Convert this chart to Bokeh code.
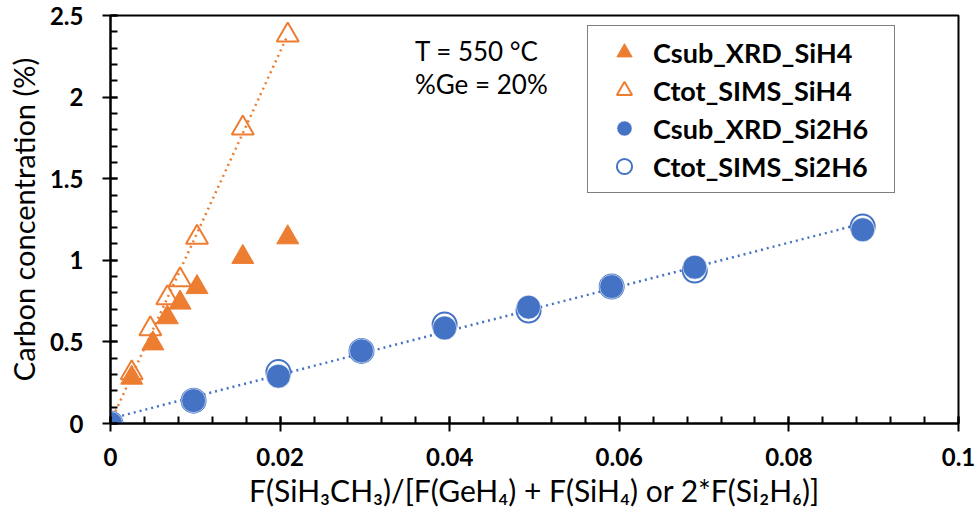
import numpy as np
from bokeh.plotting import figure
from bokeh.models import (ColumnDataSource, Label, SingleIntervalTicker,
                          CustomJSTickFormatter, Range1d)
from bokeh.embed import file_html
from bokeh.resources import INLINE

# data
x_sih4_xrd = [0, 0.0025, 0.005, 0.0067, 0.0082, 0.0102, 0.0156, 0.0209]
y_sih4_xrd = [0, 0.28, 0.49, 0.65, 0.74, 0.835, 1.02, 1.14]
x_sih4_sims = [0, 0.0025, 0.0047, 0.0067, 0.0082, 0.0102, 0.0156, 0.0209]
y_sih4_sims = [0, 0.31, 0.58, 0.77, 0.88, 1.14, 1.81, 2.38]
x_si2h6 = [0, 0.0098, 0.0198, 0.0296, 0.0394, 0.0493, 0.0591, 0.0689, 0.0887]
y_si2h6_xrd = [0, 0.14, 0.29, 0.445, 0.585, 0.713, 0.839, 0.958, 1.187]
y_si2h6_sims = [0, 0.14, 0.315, 0.445, 0.607, 0.692, 0.839, 0.937, 1.207]

labels = ["Csub_XRD_SiH4", "Ctot_SIMS_SiH4", "Csub_XRD_Si2H6", "Ctot_SIMS_Si2H6"]
notes = ["T = 550 °C", "%Ge = 20%"]
x_title = "F(SiH₃CH₃)/[F(GeH₄) + F(SiH₄) or 2*F(Si₂H₆)]"
y_title = "Carbon concentration (%)"

ORANGE = "#ED7D31"
BLUE = "#4472C4"
FONT = "Lato"

p = figure(width=977, height=517, title=None, toolbar_location=None,
           output_backend="svg", x_range=Range1d(0, 0.1), y_range=Range1d(0, 2.5),
           min_border_left=110, min_border_right=19, min_border_top=15,
           min_border_bottom=94)
p.background_fill_color = "white"
p.border_fill_color = "white"
p.outline_line_color = "black"
p.outline_line_width = 2
p.xgrid.visible = False
p.ygrid.visible = False

# trend lines (linear fits of the SIMS data)
def trend(xs, ys):
    k, b = np.polyfit(xs, ys, 1)
    xx = np.array([min(xs), max(xs)])
    return xx, k * xx + b

tx, ty = trend(x_sih4_sims, y_sih4_sims)
p.line(tx, ty, line_color=ORANGE, line_width=2.5, line_dash="2 4")
tx, ty = trend(x_si2h6, y_si2h6_sims)
p.line(tx, ty, line_color=BLUE, line_width=2.5, line_dash="2 4")

src1 = ColumnDataSource(dict(x=x_sih4_xrd, y=y_sih4_xrd))
src2 = ColumnDataSource(dict(x=x_sih4_sims, y=y_sih4_sims))
src3 = ColumnDataSource(dict(x=x_si2h6, y=y_si2h6_xrd))
src4 = ColumnDataSource(dict(x=x_si2h6, y=y_si2h6_sims))

p.scatter("x", "y", source=src1, marker="triangle", size=22, fill_color=ORANGE,
          line_color=ORANGE, line_width=1, legend_label=labels[0])
p.scatter("x", "y", source=src2, marker="triangle", size=22, fill_color=None,
          line_color=ORANGE, line_width=2, legend_label=labels[1])
p.scatter("x", "y", source=src4, marker="circle", size=24, fill_color=None,
          line_color=BLUE, line_width=2, legend_label=labels[3])
p.scatter("x", "y", source=src3, marker="circle", size=24, fill_color=BLUE,
          line_color="white", line_alpha=0.6, line_width=1, legend_label=labels[2])

# axes
fmt = CustomJSTickFormatter(code="return Number(tick.toFixed(4)).toString();")
p.xaxis.ticker = SingleIntervalTicker(interval=0.02, num_minor_ticks=5)
p.yaxis.ticker = SingleIntervalTicker(interval=0.5, num_minor_ticks=5)
for ax in (p.xaxis, p.yaxis):
    ax.formatter = fmt
    ax.axis_line_color = "black"
    ax.axis_line_width = 2
    ax.major_tick_line_color = "black"
    ax.major_tick_line_width = 2
    ax.minor_tick_line_color = "black"
    ax.minor_tick_line_width = 2
    ax.major_tick_in = 7
    ax.major_tick_out = 8
    ax.minor_tick_in = 7
    ax.minor_tick_out = 0
    ax.major_label_text_font = FONT
    ax.major_label_text_font_style = "bold"
    ax.major_label_text_font_size = "24px"
    ax.major_label_text_color = "black"
    ax.axis_label_text_font = FONT
    ax.axis_label_text_font_style = "normal"
    ax.axis_label_text_color = "black"
p.yaxis.axis_label_text_font_size = "29px"
p.xaxis.axis_label_text_font_size = "30px"
p.xaxis.major_label_standoff = 16
p.yaxis.major_label_standoff = 19
p.xaxis.axis_label = x_title
p.yaxis.axis_label = y_title
p.xaxis.axis_label_standoff = 3
p.yaxis.axis_label_standoff = 6

# condition notes
for txt, yv in zip(notes, [2.285, 2.083]):
    p.add_layout(Label(x=0.0359, y=yv, text=txt, text_font=FONT,
                       text_font_size="26px", text_baseline="middle",
                       text_color="black"))

# legend
leg = p.legend[0]
leg.items = [leg.items[0], leg.items[1], leg.items[3], leg.items[2]]
leg.location = (477, 230)
leg.border_line_color = "black"
leg.border_line_width = 1.5
leg.background_fill_color = "white"
leg.background_fill_alpha = 1
leg.label_text_font = FONT
leg.label_text_font_style = "bold"
leg.label_text_font_size = "27px"
leg.label_text_color = "black"
leg.padding = 7
leg.spacing = 0
leg.glyph_height = 38
leg.glyph_width = 58
leg.label_standoff = 0
leg.label_width = 234
leg.label_height = 38
leg.margin = 0

open("out.html", "w").write(file_html(p, INLINE))
